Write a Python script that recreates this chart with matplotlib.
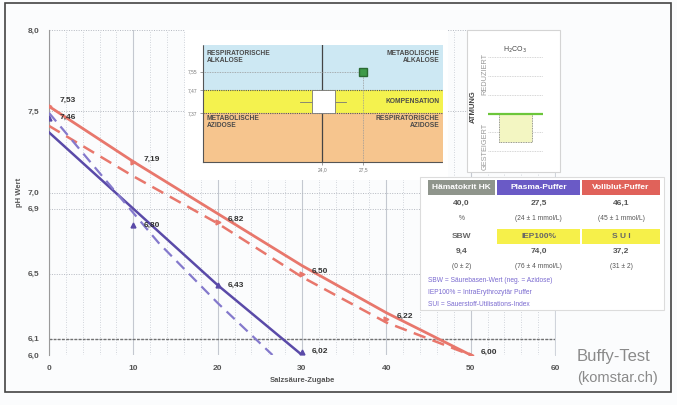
import matplotlib
matplotlib.use("Agg")
import matplotlib.pyplot as plt
from matplotlib.patches import Rectangle

plt.rcParams['font.family'] = ['Liberation Sans', 'DejaVu Sans']

# -----------------------------
# Data
# -----------------------------
hcl = [0, 10, 20, 30, 40, 50]

red_solid_x = [0, 10, 20, 30, 40, 50]
red_solid_y = [7.53, 7.19, 6.87, 6.55, 6.26, 6.00]
red_dash_x = [0, 10, 20, 30, 40, 50]
red_dash_y = [7.41, 7.10, 6.81, 6.48, 6.20, 6.00]
red_pts_y = [7.53, 7.19, 6.82, 6.50, 6.22, 6.00]
red_labels = ["7,53", "7,19", "6,82", "6,50", "6,22", "6,00"]

blue_solid_x = [0, 10, 20, 30]
blue_solid_y = [7.37, 6.90, 6.43, 6.00]
blue_dash_x = [0, 6, 13, 20, 26.5]
blue_dash_y = [7.49, 7.12, 6.69, 6.32, 6.00]
blue_pts_x = [0, 10, 20, 30]
blue_pts_y = [7.46, 6.80, 6.43, 6.02]
blue_labels = ["7,46", "6,80", "6,43", "6,02"]

limit_ph = 6.1
y_ticks = [6.0, 6.1, 6.5, 6.9, 7.0, 7.5, 8.0]
y_ticklabels = ["6,0", "6,1", "6,5", "6,9", "7,0", "7,5", "8,0"]
x_ticks = [0, 10, 20, 30, 40, 50, 60]

# acid-base inset
ph_normal_lo = 7.37
ph_normal_hi = 7.47
ph_measured = 7.55
hco3_normal = 24.0
hco3_measured = 27.5
normal_box_x = [23.15, 25.1]
normal_whisker_x = [22.1, 26.0]

# H2CO3 inset (grid units)
h2co3_normal = 3.0
h2co3_box = [1.5, 3.0]

# table
table_header = ["Hämatokrit HK", "Plasma-Puffer", "Vollblut-Puffer"]
table_values = ["40,0", "27,5", "46,1"]
table_units = ["%", "(24 ± 1 mmol/L)", "(45 ± 1 mmol/L)"]
table_header2 = ["SBW", "IEP100%", "S U I"]
table_values2 = ["9,4", "74,0", "37,2"]
table_units2 = ["(0 ± 2)", "(76 ± 4 mmol/L)", "(31 ± 2)"]
legend_lines = ["SBW = Säurebasen-Wert (neg. = Azidose)",
                "IEP100% = IntraErythrozytär Puffer",
                "SUI = Sauerstoff-Utilisations-Index"]

W, H = 677, 405
RED = "#e8776c"
BLUE = "#5a4aa8"
BLUE_L = "#8479cc"
GRAY_T = "#555555"


def fig_rect(x0, y0, x1, y1):
    # pixel box -> figure fraction [left, bottom, width, height]
    return [x0 / W, 1 - y1 / H, (x1 - x0) / W, (y1 - y0) / H]


fig = plt.figure(figsize=(W / 100, H / 100), dpi=100)
fig.patch.set_facecolor("#fbfcfd")

# outer frame
fig.add_artist(Rectangle((5 / W, 1 - 392 / H), 666 / W, 389 / H, transform=fig.transFigure,
                         fill=False, edgecolor="#444444", lw=1.2))

# -----------------------------
# Main chart
# -----------------------------
ax = fig.add_axes(fig_rect(49, 30, 555, 355))
ax.set_facecolor("none")
ax.set_xlim(0, 60)
ax.set_ylim(6.0, 8.0)
ax.set_xticks(x_ticks)
ax.set_xticks(range(0, 61, 2), minor=True)
ax.set_yticks(y_ticks)
ax.set_yticklabels(y_ticklabels)
ax.tick_params(axis="both", labelsize=6, colors=GRAY_T, length=0, pad=7)
ax.tick_params(axis="x", which="minor", length=0)
for lab in ax.get_xticklabels() + ax.get_yticklabels():
    lab.set_fontweight("bold")
ax.grid(axis="x", which="minor", color="#c4c8d0", lw=0.6, ls=(0, (1, 2)))
ax.grid(axis="x", which="major", color="#c4c8d0", lw=0.8)
ax.grid(axis="y", which="major", color="#b4b8c0", lw=0.7, ls=(0, (1, 1.5)))
for s in ["top", "bottom"]:
    ax.spines[s].set_visible(False)
ax.spines["left"].set_color("#9a9a9a")
ax.spines["left"].set_linestyle((0, (1, 1)))
ax.spines["right"].set_color("#cfd3da")
ax.spines["right"].set_linewidth(0.7)

ax.axhline(limit_ph, color="#707070", lw=1.0, ls=(0, (2, 1)), zorder=2)

ax.plot(red_solid_x, red_solid_y, color=RED, lw=2.0, zorder=4)
ax.plot(red_dash_x, red_dash_y, color=RED, lw=1.8, ls=(0, (5, 3)), zorder=4)
ax.plot(blue_solid_x, blue_solid_y, color=BLUE, lw=1.8, zorder=4)
ax.plot(blue_dash_x, blue_dash_y, color=BLUE_L, lw=1.6, ls=(0, (5, 3)), zorder=4)

ax.plot(hcl, red_pts_y, ls="none", marker=">", ms=3.5, color=RED, zorder=5)
ax.plot(blue_pts_x, blue_pts_y, ls="none", marker="^", ms=3.5, color=BLUE, zorder=5)
for x, y, t in zip(hcl, red_pts_y, red_labels):
    ax.text(x + 1.2, y + 0.015, t, fontsize=6, color="#333333", fontweight="bold",
            va="bottom" if x == 0 else "center", zorder=6)
for x, y, t in zip(blue_pts_x, blue_pts_y, blue_labels):
    ax.text(x + 1.2, y + 0.0, t, fontsize=6, color="#333333", fontweight="bold",
            va="center", zorder=6)

ax.set_xlabel("Salzsäure-Zugabe", fontsize=5.5, color=GRAY_T, fontweight="bold", labelpad=4)
ax.set_ylabel("pH Wert", fontsize=5.5, color=GRAY_T, fontweight="bold", labelpad=3)

# -----------------------------
# Acid-base inset
# -----------------------------
fig.add_artist(Rectangle((185 / W, 1 - 180 / H), 263 / W, 150 / H, transform=fig.transFigure,
                         facecolor="white", edgecolor="none", zorder=1))
ai = fig.add_axes(fig_rect(203, 45, 443, 162), zorder=2)
ai.set_xlim(13.8, 34.3)
ai.set_ylim(7.157, 7.666)
ai.axhspan(ph_normal_hi, 7.666, color="#cde8f3", lw=0)
ai.axhspan(ph_normal_lo, ph_normal_hi, color="#f4f24e", lw=0)
ai.axhspan(7.157, ph_normal_lo, color="#f6c58e", lw=0)
ai.axhline(ph_normal_hi, color="#555555", lw=0.8, ls=(0, (1, 1)))
ai.axhline(ph_normal_lo, color="#555555", lw=0.8, ls=(0, (1, 1)))
ai.axvline(hco3_normal, color="#444444", lw=0.9)
ai.plot([13.8, hco3_measured], [ph_measured, ph_measured], color="#999999", lw=0.6, ls=(0, (1, 1)))
ai.plot([hco3_measured, hco3_measured], [7.157, ph_measured], color="#999999", lw=0.6, ls=(0, (1, 1)))
ai.plot(normal_whisker_x, [(ph_normal_lo + ph_normal_hi) / 2] * 2, color="#777777", lw=0.6)
ai.add_patch(Rectangle((normal_box_x[0], ph_normal_lo), normal_box_x[1] - normal_box_x[0],
                       ph_normal_hi - ph_normal_lo, facecolor="white", edgecolor="#777777", lw=0.6, zorder=3))
ai.plot([hco3_measured], [ph_measured], ls="none", marker="s", ms=6, color="#3e9a4a",
        markeredgecolor="#2a6a33", zorder=4)
ai.set_yticks([ph_normal_lo, ph_normal_hi, ph_measured])
ai.set_yticklabels(["7,37", "7,47", "7,55"])
ai.set_xticks([hco3_normal, hco3_measured])
ai.set_xticklabels(["24,0", "27,5"])
ai.tick_params(labelsize=3.5, colors="#777777", length=2, width=0.5, pad=2)
for s in ["top", "right"]:
    ai.spines[s].set_visible(False)
ai.spines["left"].set_linestyle((0, (1, 1)))
ai.spines["left"].set_color("#555555")
ai.spines["bottom"].set_color("#555555")
ai.spines["bottom"].set_linestyle((0, (1, 1)))
kw = dict(fontsize=4.8, color="#4a4a4a", fontweight="bold", linespacing=1.1)
ai.text(0.015, 0.96, "RESPIRATORISCHE\nALKALOSE", transform=ai.transAxes, ha="left", va="top", **kw)
ai.text(0.985, 0.96, "METABOLISCHE\nALKALOSE", transform=ai.transAxes, ha="right", va="top", **kw)
ai.text(0.985, (ph_normal_lo + ph_normal_hi) / 2, "KOMPENSATION",
        transform=ai.get_yaxis_transform(), ha="right", va="center", **kw)
ai.text(0.015, ph_normal_lo - 0.008, "METABOLISCHE\nAZIDOSE", transform=ai.get_yaxis_transform(),
        ha="left", va="top", **kw)
ai.text(0.985, ph_normal_lo - 0.008, "RESPIRATORISCHE\nAZIDOSE", transform=ai.get_yaxis_transform(),
        ha="right", va="top", **kw)

# -----------------------------
# H2CO3 inset
# -----------------------------
fig.add_artist(Rectangle((467 / W, 1 - 172 / H), 93 / W, 142 / H, transform=fig.transFigure,
                         facecolor="white", edgecolor="#d4d4d4", lw=0.8, zorder=1))
ah = fig.add_axes(fig_rect(488, 57, 543, 170), zorder=2)
ah.set_facecolor("none")
ah.set_xlim(0, 1)
ah.set_ylim(0, 6)
for g in range(0, 7):
    ah.axhline(g, color="#c8c8c8", lw=0.6, ls=(0, (1, 1)))
ah.add_patch(Rectangle((0.2, h2co3_box[0]), 0.6, h2co3_box[1] - h2co3_box[0],
                       facecolor="#f3f6c2", edgecolor="#777777", lw=0.6, ls=(0, (1, 1)), zorder=3))
ah.axhline(h2co3_normal, color="#6cc63a", lw=1.6, zorder=4)
ah.axis("off")
fig.text(515 / W, 1 - 50 / H, "H$_2$CO$_3$", fontsize=5, color="#444444", ha="center", va="center")
fig.text(473 / W, 1 - 107 / H, "ATMUNG", fontsize=5.5, color="#444444", fontweight="bold",
         rotation=90, ha="center", va="center")
fig.text(485 / W, 1 - 74 / H, "REDUZIERT", fontsize=5.3, color="#999999",
         rotation=90, ha="center", va="center")
fig.text(485 / W, 1 - 146 / H, "GESTEIGERT", fontsize=5.3, color="#999999",
         rotation=90, ha="center", va="center")

# -----------------------------
# Result table
# -----------------------------
fig.add_artist(Rectangle((420 / W, 1 - 310 / H), 244 / W, 133 / H, transform=fig.transFigure,
                         facecolor="white", edgecolor="#dcdcdc", lw=0.8, zorder=1))
col_x = [(428, 495), (497, 580), (582, 660)]
head_colors = ["#8f958c", "#6a5ac6", "#e0625a"]


def cell(x0, x1, y0, y1, color):
    fig.add_artist(Rectangle((x0 / W, 1 - y1 / H), (x1 - x0) / W, (y1 - y0) / H,
                             transform=fig.transFigure, facecolor=color, edgecolor="none", zorder=2))


def row_text(y, texts, size, color="#555555", weight="bold"):
    for (x0, x1), t in zip(col_x, texts):
        fig.text((x0 + x1) / 2 / W, 1 - y / H, t, fontsize=size, color=color,
                 fontweight=weight, ha="center", va="center", zorder=3)


for (x0, x1), c in zip(col_x, head_colors):
    cell(x0, x1, 180, 195, c)
row_text(187.5, table_header, 6, color="white")
row_text(203, table_values, 6)
row_text(218, table_units, 4.8, weight="normal")
for (x0, x1) in col_x[1:]:
    cell(x0, x1, 229, 244, "#f6f04a")
row_text(236.5, table_header2, 6, color="#666666")
row_text(251, table_values2, 6)
row_text(266, table_units2, 4.8, weight="normal")
for i, t in enumerate(legend_lines):
    fig.text(428 / W, 1 - (281 + i * 12) / H, t, fontsize=4.8, color="#7a6ad0",
             ha="left", va="center", zorder=3)

# watermark
fig.text(577 / W, 1 - 356 / H, "Buffy-Test", fontsize=12, color="#8a8a8a", ha="left", va="center")
fig.text(577 / W, 1 - 378 / H, "(komstar.ch)", fontsize=10.5, color="#8a8a8a", ha="left", va="center")

fig.savefig("out.png", dpi=100)
